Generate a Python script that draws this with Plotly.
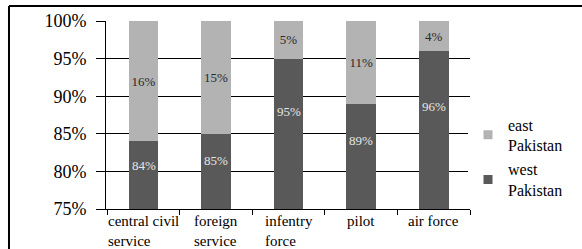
import plotly.graph_objects as go

categories = ["central civil", "foreign", "infentry", "pilot", "air force"]
label_lines = ["central civil<br>service", "foreign<br>service", "infentry<br>force", "pilot", "air force"]
west = [84, 85, 95, 89, 96]
east = [16, 15, 5, 11, 4]
yticks = [75, 80, 85, 90, 95, 100]
ytick_text = ["75%", "80%", "85%", "90%", "95%", "100%"]

DARK = "#595959"
LIGHT = "#b3b3b3"
FONT = "'Liberation Serif', 'Times New Roman', Times, serif"
YMIN, YMAX = 75, 100

fig = go.Figure()
fig.add_trace(go.Bar(x=categories, y=west, name="west<br>Pakistan", marker_color=DARK,
                     marker_line_width=0, width=0.41, showlegend=False))
fig.add_trace(go.Bar(x=categories, y=east, name="east<br>Pakistan", marker_color=LIGHT,
                     marker_line_width=0, width=0.41,
                     text=[f"{v}%" for v in east], textposition="inside",
                     insidetextanchor="middle", textangle=0, constraintext="none",
                     textfont=dict(family=FONT, size=13, color="#2a2a2a"),
                     showlegend=False))
# legend proxies
fig.add_trace(go.Scatter(x=[None], y=[None], mode="markers", name="east<br>Pakistan",
                         marker=dict(symbol="square", size=9, color=LIGHT)))
fig.add_trace(go.Scatter(x=[None], y=[None], mode="markers", name="west<br>Pakistan",
                         marker=dict(symbol="square", size=9, color=DARK)))

# west labels inside the visible part of the dark bars
for c, v in zip(categories, west):
    fig.add_annotation(x=c, y=YMIN + 0.65 * (v - YMIN), xref="x", yref="y",
                       text=f"{v}%", showarrow=False,
                       font=dict(family=FONT, size=13, color="#e6e6e6"))

for c, lab in zip(categories, label_lines):
    fig.add_annotation(x=c, y=0, xref="x", yref="paper", yanchor="top", xanchor="center",
                       yshift=-2, text=lab, align="left", showarrow=False,
                       font=dict(family=FONT, size=15, color="#000"))

# outer chart frame (left and top edges visible)
fig.add_shape(type="line", xref="paper", yref="paper", x0=-0.2665, x1=-0.2665, y0=-0.5, y1=1.0798,
              line=dict(color="#000", width=2))
fig.add_shape(type="line", xref="paper", yref="paper", x0=-0.2665, x1=1.5, y0=1.0798, y1=1.0798,
              line=dict(color="#000", width=2))

fig.update_layout(
    width=582, height=249,
    margin=dict(l=106, r=112, t=21, b=40, autoexpand=False),
    barmode="stack",
    plot_bgcolor="white", paper_bgcolor="white",
    font=dict(family=FONT, size=16, color="#000"),
    legend=dict(x=0.9945, y=0.274, yanchor="middle", xanchor="left",
                font=dict(family=FONT, size=16), traceorder="normal"),
    showlegend=True,
)
fig.update_xaxes(showticklabels=False, showline=True, linecolor="#000", linewidth=1,
                 ticks="outside", ticklen=5, tickcolor="#000", tickson="boundaries",
                 showgrid=False, fixedrange=True)
fig.update_yaxes(range=[YMIN, YMAX], tickvals=yticks, ticktext=ytick_text,
                 showline=True, linecolor="#000", linewidth=1,
                 ticks="outside", ticklen=9, tickcolor="#000", ticklabelstandoff=6,
                 showgrid=True, gridcolor="#000", gridwidth=1, zeroline=False,
                 tickfont=dict(family=FONT, size=18), fixedrange=True)

fig.write_html("out.html", config={"displayModeBar": False},
               post_script="document.body.style.margin='0';document.body.style.overflow='hidden';")
